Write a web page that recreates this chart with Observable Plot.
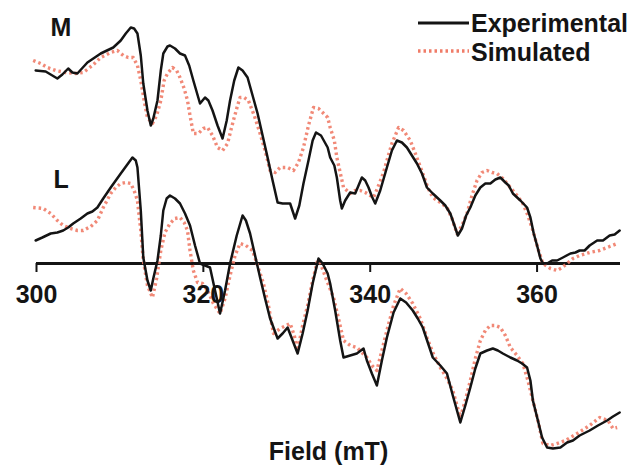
<!DOCTYPE html>
<html>
<head>
<meta charset="utf-8">
<script src="https://cdn.jsdelivr.net/npm/d3@7"></script>
<script src="https://cdn.jsdelivr.net/npm/@observablehq/plot@0.6"></script>
<style>
  html, body { margin: 0; padding: 0; background: #fff; }
  #wrap { position: relative; width: 636px; height: 467px; font-family: "Liberation Sans", Arial, sans-serif; }
  #legend { position: absolute; left: 0; top: 0; pointer-events: none; }
</style>
</head>
<body>
<div id="wrap"></div>
<script>
// Field (mT) and signal (arbitrary units)
const mExpField = [299.9,301.1,302.5,303.1,303.8,304.3,304.9,306.1,307.7,309.2,310.1,310.7,311.3,311.7,312.1,312.5,312.8,313.3,313.7,314.0,314.5,314.9,315.2,315.7,316.0,316.6,317.2,317.8,318.3,318.8,319.6,320.2,320.6,321.1,321.7,322.3,322.8,323.2,323.7,324.2,324.7,325.3,325.9,326.5,327.1,327.7,328.3,328.9,329.5,330.4,331.0,331.5,332.0,332.6,333.1,333.5,334.1,334.9,335.2,335.7,336.0,336.4,336.6,337.0,337.6,338.2,338.6,339.0,339.4,339.8,340.2,340.6,341.2,342.0,342.6,343.2,343.8,344.4,345.0,345.6,346.2,346.8,347.5,348.4,349.0,349.6,350.1,350.5,351.0,351.5,352.0,352.6,353.2,353.8,354.4,355.0,355.6,356.2,356.6,357.1,358.0,358.8,359.2,359.6,360.0,360.4,360.7,361.2,361.8,362.4,363.1,364.0,364.6,365.1,365.7,366.3,367.2,367.9,368.7,369.3,369.9];
const mExpSignal = [193,192,185,189,195,191,190,201,210,216,223,230,236,235,230,208,180,153,138,145,163,193,210,217,218,215,210,208,198,183,160,166,163,153,138,125,143,163,183,196,193,186,168,150,128,106,83,61,60,60,45,58,80,103,123,131,128,116,106,98,86,63,55,63,71,70,78,86,83,76,67,60,73,96,113,123,121,116,108,100,90,76,70,63,58,50,38,28,35,48,56,68,76,80,80,84,86,81,78,70,63,56,46,30,18,5,0,0,3,3,6,10,11,13,13,18,23,23,28,29,33];

const mSimField = [299.6,300.5,301.3,302.3,303.5,304.7,305.6,306.7,307.7,308.9,309.7,310.4,311.0,311.6,312.1,312.5,312.9,313.3,313.9,314.4,314.9,315.3,315.7,316.3,316.8,317.2,317.7,318.1,318.4,318.8,319.4,320.0,320.5,321.1,321.7,322.3,322.9,323.2,323.6,324.1,324.4,324.9,325.4,326.1,326.8,327.4,328.0,328.6,329.2,330.1,330.8,331.4,332.0,332.6,333.2,333.8,334.3,334.9,335.2,335.7,336.0,336.4,336.8,337.2,337.6,338.2,338.8,339.4,340.0,340.4,341.0,341.6,342.0,342.6,343.4,344.0,344.8,345.5,346.3,346.9,347.5,348.4,349.2,349.8,350.4,351.0,351.6,352.2,352.8,353.4,354.0,354.6,355.2,355.9,356.8,357.6,358.3,358.9,359.5,360.1,360.7,361.6,362.4,363.0,363.6,364.3,365.1,366.3,367.5,368.7,369.6];
const mSimSignal = [203,200,196,193,191,190,191,198,206,211,213,208,206,206,198,183,163,146,140,148,163,183,190,196,193,186,175,163,148,130,130,135,136,128,116,113,120,130,143,158,166,166,163,148,130,113,93,91,96,96,93,101,116,138,156,155,151,146,136,123,106,91,76,73,70,73,73,71,68,66,78,91,103,120,136,133,123,108,90,76,66,61,56,45,30,38,50,68,83,91,93,91,90,85,76,68,60,48,33,15,0,-5,-7,-4,0,5,8,11,13,17,20];

const lExpField = [299.9,300.7,301.7,302.5,303.2,303.8,304.4,305.3,306.1,306.7,307.3,308.0,308.9,309.5,310.1,310.8,311.5,311.9,312.1,312.5,312.8,313.3,313.7,314.0,314.5,314.9,315.2,315.6,316.0,316.6,317.2,317.8,318.4,319.0,319.6,320.2,320.8,321.4,322.0,322.6,323.2,324.0,324.7,325.1,325.6,326.2,326.8,327.4,328.0,328.9,329.5,330.1,330.7,331.3,331.9,332.5,333.1,333.8,334.3,334.9,335.2,335.8,336.4,336.8,337.6,338.4,339.2,339.6,340.2,340.8,341.4,342.0,342.8,343.6,344.3,345.1,345.7,346.3,346.9,347.5,348.4,349.2,349.9,350.8,351.4,352.0,352.6,353.2,354.0,354.7,355.3,355.9,356.8,357.6,358.2,358.8,359.2,359.5,360.1,360.6,361.2,361.9,362.8,363.6,364.3,365.1,366.3,367.3,368.4,369.1,369.9];
const lExpSignal = [23,26,30,31,33,36,40,45,50,52,56,65,76,83,90,98,106,103,96,53,6,-17,-27,-15,3,28,53,65,68,65,60,50,38,18,0,-2,-4,-27,-50,-27,0,28,48,43,30,8,-14,-35,-55,-75,-70,-64,-77,-90,-70,-47,-20,5,0,-10,-20,-47,-77,-94,-92,-90,-85,-97,-110,-122,-97,-74,-49,-35,-39,-47,-55,-64,-79,-94,-102,-110,-132,-159,-142,-124,-105,-90,-87,-85,-87,-90,-94,-97,-100,-104,-117,-137,-157,-174,-184,-185,-184,-179,-177,-172,-167,-162,-157,-153,-149];

const lSimField = [299.6,300.8,301.7,302.5,303.2,304.1,304.9,305.6,306.5,307.3,308.0,308.9,309.5,310.1,310.7,311.3,311.7,312.1,312.5,312.8,313.3,313.9,314.4,314.9,315.4,316.0,316.6,317.2,317.7,318.1,318.4,318.8,319.3,319.9,320.5,321.2,322.0,322.6,323.2,323.8,324.4,325.1,325.9,326.5,327.2,327.8,328.4,329.2,330.4,330.9,331.3,331.9,332.5,333.1,333.7,334.0,334.7,335.6,336.2,336.8,337.6,338.4,339.0,339.6,340.2,340.8,341.4,342.0,342.8,343.6,344.3,345.1,346.0,346.8,347.5,348.4,349.2,349.9,350.4,350.8,351.4,352.0,352.6,353.2,353.8,354.4,355.0,355.6,356.2,356.8,357.6,358.3,358.9,359.5,360.1,360.7,361.6,362.4,363.4,364.8,366.3,367.5,368.5,369.1,369.6];
const lSimSignal = [56,55,50,43,38,35,33,33,37,43,56,70,76,80,81,80,73,63,33,3,-22,-34,-15,13,31,40,45,46,41,33,13,-7,-19,-20,-27,-40,-50,-35,-12,8,20,18,13,-2,-20,-42,-70,-65,-60,-72,-87,-62,-42,-17,3,1,-15,-34,-55,-77,-82,-84,-89,-94,-102,-107,-87,-67,-42,-25,-30,-40,-55,-74,-89,-104,-115,-127,-142,-154,-137,-117,-95,-77,-67,-62,-62,-64,-72,-84,-92,-100,-117,-137,-157,-180,-182,-180,-177,-170,-162,-154,-157,-165,-164];

const tickValues = [300, 320, 340, 360];
const traceLabels = ["M", "L"];
const legendLabels = ["Experimental", "Simulated"];

const toRows = (f, s) => f.map((x, i) => ({field: x, signal: s[i]}));
const mExp = toRows(mExpField, mExpSignal);
const mSim = toRows(mSimField, mSimSignal);
const lExp = toRows(lExpField, lExpSignal);
const lSim = toRows(lSimField, lSimSignal);

const font = "Liberation Sans, Arial, sans-serif";
const simColor = "#f07c68";
const expColor = "#141414";
const simDash = "2.5,3";

const chart = Plot.plot({
  width: 636,
  height: 467,
  marginLeft: 36,
  marginRight: 16,
  marginTop: 0,
  marginBottom: 0,
  x: {domain: [300, 370], axis: null},
  y: {domain: [-204, 263], axis: null},
  style: {fontFamily: font, background: "#fff", overflow: "visible"},
  marks: [
    Plot.ruleY([0], {x1: 300, x2: 370, stroke: expColor, strokeWidth: 3.2}),
    Plot.ruleX(tickValues, {y1: 0, y2: -9, stroke: expColor, strokeWidth: 2}),
    Plot.line(mSim, {x: "field", y: "signal", stroke: simColor, strokeWidth: 3.4, strokeDasharray: simDash, strokeLinecap: "butt", strokeOpacity: 0.9}),
    Plot.line(lSim, {x: "field", y: "signal", stroke: simColor, strokeWidth: 3.4, strokeDasharray: simDash, strokeLinecap: "butt", strokeOpacity: 0.9}),
    Plot.line(mExp, {x: "field", y: "signal", stroke: expColor, strokeWidth: 2.5}),
    Plot.line(lExp, {x: "field", y: "signal", stroke: expColor, strokeWidth: 2.5}),
    Plot.text(tickValues, {x: d => d, y: -31, text: d => String(d), fontSize: 25, fontWeight: "bold", fill: expColor, lineAnchor: "middle"}),
    Plot.text(["Field (mT)"], {frameAnchor: "bottom", dy: -16, lineAnchor: "middle", fontSize: 25, fontWeight: "bold", fill: expColor}),
    Plot.text([traceLabels[0]], {frameAnchor: "top-left", dx: 14, dy: 18, textAnchor: "start", lineAnchor: "top", fontSize: 25, fontWeight: "bold", fill: expColor}),
    Plot.text([traceLabels[1]], {frameAnchor: "top-left", dx: 17, dy: 170, textAnchor: "start", lineAnchor: "top", fontSize: 25, fontWeight: "bold", fill: expColor})
  ]
});

const wrap = document.getElementById("wrap");
wrap.appendChild(chart);

// Legend overlay (top right, inside the plot area)
const ns = "http://www.w3.org/2000/svg";
const leg = document.createElementNS(ns, "svg");
leg.setAttribute("id", "legend");
leg.setAttribute("width", 636);
leg.setAttribute("height", 80);
const items = [
  {label: legendLabels[0], color: expColor, width: 2.8, dash: null, ly: 23, ty: 32},
  {label: legendLabels[1], color: simColor, width: 3.4, dash: simDash, ly: 51, ty: 61}
];
for (const it of items) {
  const ln = document.createElementNS(ns, "line");
  ln.setAttribute("x1", 418); ln.setAttribute("x2", 469);
  ln.setAttribute("y1", it.ly); ln.setAttribute("y2", it.ly);
  ln.setAttribute("stroke", it.color);
  ln.setAttribute("stroke-width", it.width);
  if (it.dash) ln.setAttribute("stroke-dasharray", it.dash);
  leg.appendChild(ln);
  const tx = document.createElementNS(ns, "text");
  tx.setAttribute("x", 471); tx.setAttribute("y", it.ty);
  tx.setAttribute("font-family", font);
  tx.setAttribute("font-size", 25);
  tx.setAttribute("font-weight", "bold");
  tx.setAttribute("fill", expColor);
  tx.textContent = it.label;
  leg.appendChild(tx);
}
wrap.appendChild(leg);
</script>
</body>
</html>
